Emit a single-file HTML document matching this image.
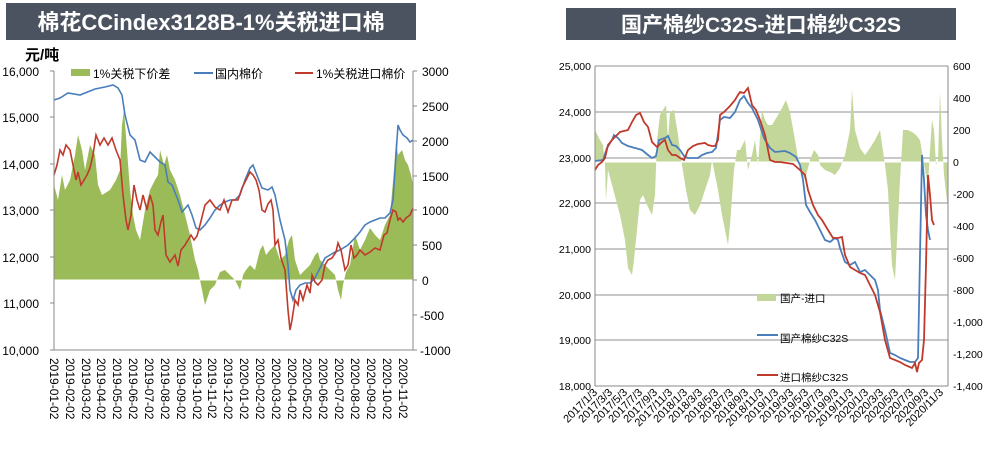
<!DOCTYPE html>
<html><head><meta charset="utf-8"><style>
body{margin:0;background:#fff;width:985px;height:446px;overflow:hidden}
svg{font-family:"Liberation Sans","Noto Sans CJK SC",sans-serif}
</style></head><body>
<svg width="985" height="446" viewBox="0 0 985 446" xmlns="http://www.w3.org/2000/svg">
<rect x="0" y="0" width="985" height="446" fill="#fff"/>
<!-- LEFT -->
<rect x="6" y="3" width="410" height="37" fill="#4b5360"/>
<text x="211" y="30" fill="#fff" font-size="22" font-weight="bold" text-anchor="middle">棉花CCindex3128B-1%关税进口棉</text>
<text x="25" y="60" font-size="15" font-weight="bold" fill="#000">元/吨</text>
<polygon fill="#9bbb59" points="54,280 54,185 58,200 62,175 65,190 70,180 75,155 78,135 82,150 85,170 90,145 95,155 98,185 102,195 110,190 116,180 120,170 122,125 124,110 127,150 130,190 133,215 136,230 140,240 145,210 150,190 155,180 158,175 160,150 164,165 167,155 170,170 175,180 180,195 185,215 190,235 195,260 198,270 202,290 205,305 210,290 215,285 220,272 225,270 230,275 235,280 240,290 243,275 246,270 250,265 255,270 260,250 263,245 266,255 270,250 275,245 280,260 285,255 289,240 292,235 295,260 300,275 305,270 310,265 315,255 318,252 320,260 325,265 330,270 335,275 338,290 341,300 343,285 346,272 350,265 355,235 360,250 365,240 370,228 375,235 380,240 385,225 390,215 394,170 396,140 398,155 402,150 405,160 408,165 411,175 413,185 413,280"/>
<line x1="54" y1="280" x2="413" y2="280" stroke="#fff" stroke-width="1"/>
<polyline fill="none" stroke="#4a7ebb" stroke-width="1.6" points="54,100 60,98 68,93 80,95 95,89 105,87 113,85 118,88 122,95 125,115 130,135 135,140 140,160 145,162 150,152 155,157 160,162 165,165 168,182 172,185 178,200 182,212 188,205 192,215 196,228 200,230 205,225 210,218 215,210 220,205 225,202 230,200 235,200 240,195 245,180 250,168 253,165 258,178 262,188 268,190 272,187 275,195 280,220 285,240 288,265 290,290 293,300 296,290 300,285 305,283 310,283 315,278 320,268 325,258 330,255 335,252 340,250 348,245 355,238 360,232 365,225 370,222 375,220 380,218 385,218 390,213 393,200 396,155 398,125 400,130 403,135 407,138 410,142 413,140"/>
<polyline fill="none" stroke="#c0392b" stroke-width="1.6" points="54,175 57,165 60,150 63,155 66,145 70,150 73,165 76,180 78,172 81,185 84,180 87,175 90,168 93,155 96,135 100,145 104,138 108,145 112,138 116,150 120,160 123,195 126,220 128,230 131,215 134,185 137,200 140,210 143,195 147,210 150,195 153,205 155,230 158,235 161,222 163,215 166,255 170,262 175,255 178,266 181,250 185,245 188,240 191,235 194,240 197,236 200,225 205,205 210,200 215,207 220,210 224,200 228,212 232,200 238,200 242,188 246,180 250,172 253,175 256,180 259,190 262,210 265,212 268,204 271,200 273,210 275,245 278,240 281,258 285,270 288,310 290,330 292,320 295,300 298,305 300,290 303,300 307,285 310,293 312,275 315,282 318,285 322,280 325,265 328,260 332,258 336,252 338,243 341,250 345,270 348,265 351,245 354,258 357,255 360,250 365,255 370,252 375,248 380,250 384,235 387,233 390,220 393,210 396,212 398,220 400,218 403,222 406,218 410,215 413,208"/>
<g stroke="#888" stroke-width="1" fill="none">
<line x1="54" y1="71" x2="54" y2="350"/><line x1="54" y1="350" x2="413" y2="350"/><line x1="413" y1="71" x2="413" y2="350"/>
<line x1="50" y1="71" x2="54" y2="71"/><line x1="50" y1="117" x2="54" y2="117"/><line x1="50" y1="164" x2="54" y2="164"/><line x1="50" y1="210" x2="54" y2="210"/><line x1="50" y1="257" x2="54" y2="257"/><line x1="50" y1="303" x2="54" y2="303"/><line x1="50" y1="350" x2="54" y2="350"/>
<line x1="413" y1="71" x2="417" y2="71"/><line x1="413" y1="106" x2="417" y2="106"/><line x1="413" y1="141" x2="417" y2="141"/><line x1="413" y1="176" x2="417" y2="176"/><line x1="413" y1="210" x2="417" y2="210"/><line x1="413" y1="245" x2="417" y2="245"/><line x1="413" y1="280" x2="417" y2="280"/><line x1="413" y1="315" x2="417" y2="315"/><line x1="413" y1="350" x2="417" y2="350"/>
</g>
<g font-size="12" fill="#000" text-anchor="end">
<text x="39" y="76">16,000</text><text x="39" y="122">15,000</text><text x="39" y="169">14,000</text><text x="39" y="215">13,000</text><text x="39" y="262">12,000</text><text x="39" y="308">11,000</text><text x="39" y="355">10,000</text>
</g>
<g font-size="12" fill="#000">
<text x="422" y="76">3000</text><text x="422" y="111">2500</text><text x="422" y="146">2000</text><text x="422" y="181">1500</text><text x="422" y="215">1000</text><text x="422" y="250">500</text><text x="422" y="285">0</text><text x="420" y="320">-500</text><text x="420" y="355">-1000</text>
</g>
<g font-size="12" fill="#000">
<text transform="translate(50,358) rotate(90)">2019-01-02</text>
<text transform="translate(66,358) rotate(90)">2019-02-02</text>
<text transform="translate(82,358) rotate(90)">2019-03-02</text>
<text transform="translate(97,358) rotate(90)">2019-04-02</text>
<text transform="translate(113,358) rotate(90)">2019-05-02</text>
<text transform="translate(129,358) rotate(90)">2019-06-02</text>
<text transform="translate(145,358) rotate(90)">2019-07-02</text>
<text transform="translate(161,358) rotate(90)">2019-08-02</text>
<text transform="translate(177,358) rotate(90)">2019-09-02</text>
<text transform="translate(193,358) rotate(90)">2019-10-02</text>
<text transform="translate(208,358) rotate(90)">2019-11-02</text>
<text transform="translate(224,358) rotate(90)">2019-12-02</text>
<text transform="translate(240,358) rotate(90)">2020-01-02</text>
<text transform="translate(256,358) rotate(90)">2020-02-02</text>
<text transform="translate(272,358) rotate(90)">2020-03-02</text>
<text transform="translate(288,358) rotate(90)">2020-04-02</text>
<text transform="translate(303,358) rotate(90)">2020-05-02</text>
<text transform="translate(319,358) rotate(90)">2020-06-02</text>
<text transform="translate(335,358) rotate(90)">2020-07-02</text>
<text transform="translate(351,358) rotate(90)">2020-08-02</text>
<text transform="translate(367,358) rotate(90)">2020-09-02</text>
<text transform="translate(383,358) rotate(90)">2020-10-02</text>
<text transform="translate(399,358) rotate(90)">2020-11-02</text>
</g>
<rect x="71" y="69" width="19" height="7" fill="#9bbb59"/>
<text x="93" y="78" font-size="12">1%关税下价差</text>
<line x1="194" y1="73" x2="213" y2="73" stroke="#4a7ebb" stroke-width="2"/>
<text x="215" y="78" font-size="12">国内棉价</text>
<line x1="295" y1="73" x2="313" y2="73" stroke="#c0392b" stroke-width="2"/>
<text x="316" y="78" font-size="12">1%关税进口棉价</text>

<!-- RIGHT -->
<rect x="566" y="8" width="390" height="32" fill="#4b5360"/>
<text x="761" y="32" fill="#fff" font-size="21" font-weight="bold" text-anchor="middle">国产棉纱C32S-进口棉纱C32S</text>
<g stroke="#a6a6a6" stroke-width="1.2">
<line x1="595" y1="112" x2="948" y2="112"/><line x1="595" y1="158" x2="948" y2="158"/><line x1="595" y1="203" x2="948" y2="203"/><line x1="595" y1="249" x2="948" y2="249"/><line x1="595" y1="295" x2="948" y2="295"/><line x1="595" y1="340" x2="948" y2="340"/><line x1="595" y1="66" x2="948" y2="66"/>
</g>
<polygon fill="#c4d79b" points="595,162 595,130 600,140 603,145 605,165 606,200 608,170 612,185 616,200 620,215 625,240 628,268 632,275 634,260 637,230 640,200 643,195 647,205 652,215 655,195 657,140 660,115 663,110 666,105 668,140 670,112 674,110 678,135 682,165 686,190 690,210 695,215 700,205 705,190 710,175 712,160 715,175 718,190 722,215 725,230 728,245 730,225 734,170 737,150 740,150 745,140 748,170 752,155 755,140 758,165 762,110 765,120 768,125 772,125 778,115 782,108 786,100 790,112 795,140 800,170 805,180 810,160 814,150 818,155 820,165 825,170 830,172 835,175 840,168 845,155 850,130 852,90 855,130 860,148 865,155 870,148 875,140 880,130 885,165 888,190 890,230 892,265 895,280 897,240 900,180 903,130 908,130 912,132 916,135 920,140 925,170 928,185 930,150 932,120 934,130 936,165 938,160 940,92 942,140 944,175 948,210 948,162"/>
<line x1="595" y1="162" x2="948" y2="162" stroke="#fff" stroke-width="1"/>
<polyline fill="none" stroke="#4a7ebb" stroke-width="1.8" points="595,161 603,160 607,148 612,140 614,135 618,138 622,143 628,146 635,148 642,150 648,155 652,158 656,156 659,140 665,138 668,136 672,145 676,146 680,150 684,156 688,158 693,158 698,158 702,155 707,153 712,152 716,148 720,120 724,117 730,118 735,112 740,100 744,96 748,103 752,108 758,120 764,138 770,148 775,152 785,151 790,153 796,157 800,165 803,180 806,205 810,212 815,220 820,230 825,240 830,242 835,238 838,240 840,248 845,262 850,265 855,262 860,272 865,270 870,275 875,280 878,290 880,310 885,330 890,353 895,355 900,358 905,360 910,362 915,362 918,358 920,255 922,155 924,180 926,215 928,230 930,240"/>
<polyline fill="none" stroke="#c0392b" stroke-width="1.8" points="595,170 598,165 602,162 605,158 608,145 612,140 615,137 620,132 628,130 632,122 636,115 640,113 644,122 648,127 652,142 657,147 662,142 665,140 668,150 672,155 676,155 680,158 684,160 688,150 693,146 698,144 705,143 708,145 712,146 715,146 718,140 720,115 724,112 730,106 735,100 738,95 740,92 744,93 748,88 752,105 756,110 760,120 765,135 770,160 775,162 780,162 793,164 800,170 805,175 808,190 813,205 818,215 822,220 828,230 833,238 838,238 842,237 845,255 850,267 855,270 860,273 865,275 870,285 875,295 880,312 885,340 890,358 900,362 905,365 912,368 915,363 917,372 919,363 922,360 924,340 926,265 928,175 930,195 932,220 934,225"/>
<g stroke="#888" stroke-width="1">
<line x1="595" y1="66" x2="595" y2="386"/><line x1="948" y1="66" x2="948" y2="386"/><line x1="595" y1="386" x2="948" y2="386"/>
</g>
<g font-size="10.5" fill="#000" text-anchor="end">
<text x="591" y="70">25,000</text><text x="591" y="116">24,000</text><text x="591" y="162">23,000</text><text x="591" y="207">22,000</text><text x="591" y="253">21,000</text><text x="591" y="299">20,000</text><text x="591" y="344">19,000</text><text x="591" y="390">18,000</text>
</g>
<g font-size="10.5" fill="#000">
<text x="953" y="70">600</text><text x="953" y="102">400</text><text x="953" y="134">200</text><text x="953" y="166">0</text><text x="953" y="198">-200</text><text x="953" y="230">-400</text><text x="953" y="262">-600</text><text x="953" y="294">-800</text><text x="953" y="326">-1,000</text><text x="953" y="358">-1,200</text><text x="953" y="390">-1,400</text>
</g>
<g font-size="11" fill="#000" text-anchor="end">
<text transform="translate(598,393) rotate(-45)">2017/1/3</text>
<text transform="translate(613,393) rotate(-45)">2017/3/3</text>
<text transform="translate(628,393) rotate(-45)">2017/5/3</text>
<text transform="translate(643,393) rotate(-45)">2017/7/3</text>
<text transform="translate(658,393) rotate(-45)">2017/9/3</text>
<text transform="translate(673,393) rotate(-45)">2017/11/3</text>
<text transform="translate(688,393) rotate(-45)">2018/1/3</text>
<text transform="translate(703,393) rotate(-45)">2018/3/3</text>
<text transform="translate(719,393) rotate(-45)">2018/5/3</text>
<text transform="translate(734,393) rotate(-45)">2018/7/3</text>
<text transform="translate(749,393) rotate(-45)">2018/9/3</text>
<text transform="translate(764,393) rotate(-45)">2018/11/3</text>
<text transform="translate(779,393) rotate(-45)">2019/1/3</text>
<text transform="translate(794,393) rotate(-45)">2019/3/3</text>
<text transform="translate(809,393) rotate(-45)">2019/5/3</text>
<text transform="translate(824,393) rotate(-45)">2019/7/3</text>
<text transform="translate(839,393) rotate(-45)">2019/9/3</text>
<text transform="translate(854,393) rotate(-45)">2019/11/3</text>
<text transform="translate(869,393) rotate(-45)">2020/1/3</text>
<text transform="translate(884,393) rotate(-45)">2020/3/3</text>
<text transform="translate(899,393) rotate(-45)">2020/5/3</text>
<text transform="translate(914,393) rotate(-45)">2020/7/3</text>
<text transform="translate(929,393) rotate(-45)">2020/9/3</text>
<text transform="translate(944,393) rotate(-45)">2020/11/3</text>
</g>
<rect x="757" y="294" width="19" height="7" fill="#c4d79b"/>
<text x="780" y="302" font-size="10.5">国产-进口</text>
<line x1="757" y1="335" x2="778" y2="335" stroke="#4a7ebb" stroke-width="2"/>
<text x="780" y="342" font-size="10.5">国产棉纱C32S</text>
<line x1="757" y1="375" x2="778" y2="375" stroke="#c0392b" stroke-width="2"/>
<text x="780" y="381" font-size="10.5">进口棉纱C32S</text>
</svg>
</body></html>
